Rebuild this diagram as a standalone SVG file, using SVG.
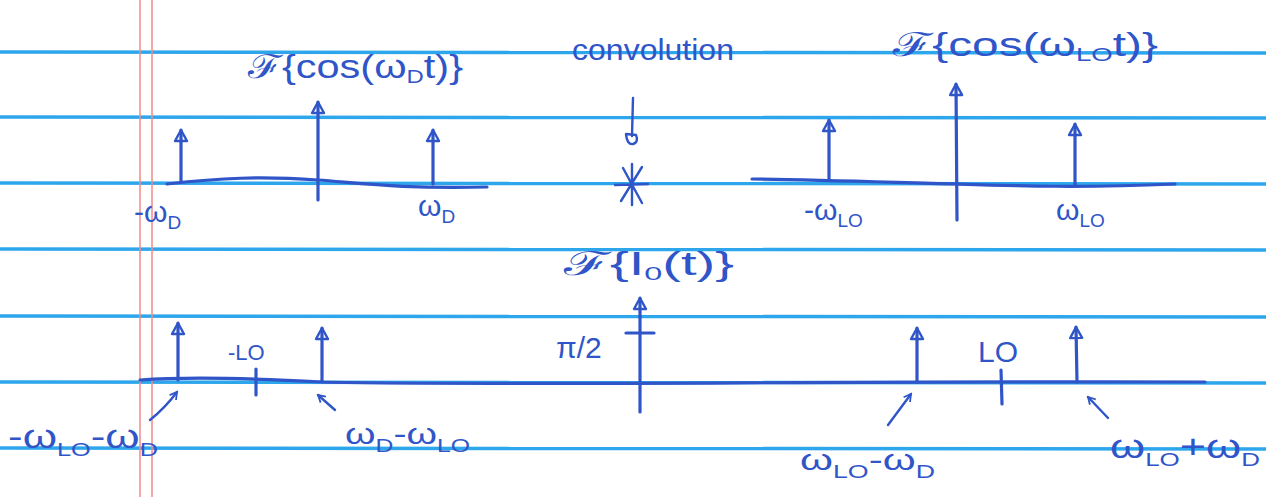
<svg xmlns="http://www.w3.org/2000/svg" width="1266" height="497" viewBox="0 0 1266 497">
<style>
.rule{stroke:#2ea6ec;stroke-width:3.5;fill:none}
.margin{stroke:#f08a8a;stroke-width:1.5;fill:none}
.pen{stroke:#2f55c8;stroke-width:3.2;fill:none;stroke-linecap:round;stroke-linejoin:round}
.thin{stroke:#2f55c8;stroke-width:2.4;fill:none;stroke-linecap:round;stroke-linejoin:round}
text{font-family:"Liberation Sans",Arial,sans-serif;fill:#2f55c8}
.lbl{font-size:30px}
.big{font-size:33px}
.sub{font-size:19px}
</style>
<defs>
<marker id="imp" viewBox="-13 -8 15 16" markerWidth="15" markerHeight="16" refX="0" refY="0" orient="auto" markerUnits="userSpaceOnUse">
<path d="M0,0 L-11,-6 L-11,6 Z" fill="none" stroke="#2f55c8" stroke-width="2.4" stroke-linejoin="round"/>
</marker>
<marker id="ah" viewBox="0 0 10 10" markerWidth="10" markerHeight="10" refX="8" refY="5" orient="auto" markerUnits="userSpaceOnUse">
<path d="M1,1 L8,5 L1,9" fill="none" stroke="#2f55c8" stroke-width="1.8"/>
</marker>
</defs>
<rect width="1266" height="497" fill="#ffffff"/>
<!-- ruled paper -->
<g id="paper">
<line class="rule" x1="0" y1="52" x2="1266" y2="53"/>
<line class="rule" x1="0" y1="117" x2="1266" y2="118"/>
<line class="rule" x1="0" y1="183" x2="1266" y2="184"/>
<line class="rule" x1="0" y1="249" x2="1266" y2="250"/>
<line class="rule" x1="0" y1="316" x2="1266" y2="317"/>
<line class="rule" x1="0" y1="382" x2="1266" y2="383"/>
<line class="rule" x1="0" y1="448" x2="1266" y2="449"/>
<line class="margin" x1="140" y1="0" x2="140" y2="497"/>
<line class="margin" x1="152" y1="0" x2="152" y2="497"/>
</g>
<!-- top-left: F{cos(wD t)} -->
<g id="plot-cos-wD">
<path class="pen" d="M167,184 C220,178 260,176 318,180 C360,183 400,189 487,187"/>
<line class="pen" x1="318" y1="200" x2="318" y2="102" marker-end="url(#imp)"/>
<line class="pen" x1="181" y1="182" x2="181" y2="130" marker-end="url(#imp)"/>
<line class="pen" x1="433" y1="184" x2="433" y2="130" marker-end="url(#imp)"/>
<text class="big" x="248" y="78" textLength="215" lengthAdjust="spacingAndGlyphs">ℱ{cos(ω<tspan class="sub" dy="5">D</tspan><tspan dy="-5">t)}</tspan></text>
<text class="lbl" x="134" y="222">-ω<tspan class="sub" dy="7">D</tspan></text>
<text class="lbl" x="418" y="216">ω<tspan class="sub" dy="7">D</tspan></text>
</g>
<!-- convolution -->
<g id="convolution">
<text class="lbl" x="572" y="60" textLength="162" lengthAdjust="spacingAndGlyphs">convolution</text>
<path class="thin" d="M633,98 L632,136 M626,134 Q627,145 633,144 Q639,142 636,135 Z"/>
<path class="thin" d="M623,168 L642,203 M642,167 L621,201 M615,185 L648,184 M632,164 L632,205"/>
</g>
<!-- top-right: F{cos(wLO t)} -->
<g id="plot-cos-wLO">
<path class="pen" d="M752,179 C820,180 880,182 957,184 C1020,186 1080,188 1175,184"/>
<line class="pen" x1="957" y1="220" x2="956" y2="84" marker-end="url(#imp)"/>
<line class="pen" x1="829" y1="180" x2="829" y2="120" marker-end="url(#imp)"/>
<line class="pen" x1="1075" y1="185" x2="1075" y2="124" marker-end="url(#imp)"/>
<text class="big" x="893" y="56" textLength="265" lengthAdjust="spacingAndGlyphs">ℱ{cos(ω<tspan class="sub" dy="5">LO</tspan><tspan dy="-5">t)}</tspan></text>
<text class="lbl" x="804" y="220">-ω<tspan class="sub" dy="7">LO</tspan></text>
<text class="lbl" x="1056" y="220">ω<tspan class="sub" dy="7">LO</tspan></text>
</g>
<!-- bottom: F{I0(t)} -->
<g id="plot-I0">
<path class="pen" d="M140,380 C180,377 230,377 322,382 C500,386 800,381 1205,382"/>
<line class="pen" x1="640" y1="412" x2="640" y2="298" marker-end="url(#imp)"/>
<line class="pen" x1="626" y1="333" x2="654" y2="333"/>
<line class="pen" x1="178" y1="380" x2="178" y2="323" marker-end="url(#imp)"/>
<line class="pen" x1="322" y1="381" x2="322" y2="328" marker-end="url(#imp)"/>
<line class="pen" x1="917" y1="382" x2="917" y2="328" marker-end="url(#imp)"/>
<line class="pen" x1="1077" y1="382" x2="1076" y2="327" marker-end="url(#imp)"/>
<line class="pen" x1="256" y1="369" x2="256" y2="395"/>
<line class="pen" x1="1001" y1="370" x2="1002" y2="404"/>
<text class="big" x="564" y="275" textLength="170" lengthAdjust="spacingAndGlyphs">ℱ{I<tspan class="sub" dy="5">0</tspan><tspan dy="-5">(t)}</tspan></text>
<text class="lbl" x="556" y="358">π/2</text>
<text class="lbl" x="228" y="360" style="font-size:22px">-LO</text>
<text class="lbl" x="978" y="362">LO</text>
<text class="big" x="8" y="448" textLength="150" lengthAdjust="spacingAndGlyphs">-ω<tspan class="sub" dy="8">LO</tspan><tspan dy="-8">-ω</tspan><tspan class="sub" dy="8">D</tspan></text>
<text class="lbl" x="345" y="444" textLength="125" lengthAdjust="spacingAndGlyphs">ω<tspan class="sub" dy="8">D</tspan><tspan dy="-8">-ω</tspan><tspan class="sub" dy="8">LO</tspan></text>
<text class="lbl" x="800" y="470" textLength="135" lengthAdjust="spacingAndGlyphs">ω<tspan class="sub" dy="8">LO</tspan><tspan dy="-8">-ω</tspan><tspan class="sub" dy="8">D</tspan></text>
<text class="big" x="1110" y="458" textLength="150" lengthAdjust="spacingAndGlyphs">ω<tspan class="sub" dy="8">LO</tspan><tspan dy="-8">+ω</tspan><tspan class="sub" dy="8">D</tspan></text>
</g>
<!-- pointer arrows -->
<g id="connectors">
<path class="thin" d="M150,420 Q165,408 177,392" marker-end="url(#ah)"/>
<path class="thin" d="M335,410 L318,395" marker-end="url(#ah)"/>
<path class="thin" d="M888,425 L911,394" marker-end="url(#ah)"/>
<path class="thin" d="M1108,418 L1088,397" marker-end="url(#ah)"/>
</g>
</svg>
